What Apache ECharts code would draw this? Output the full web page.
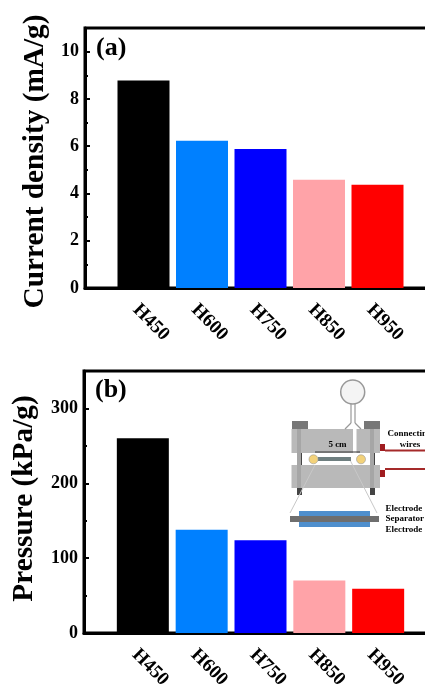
<!DOCTYPE html>
<html><head><meta charset="utf-8">
<style>html,body{margin:0;padding:0;background:#fff;overflow:hidden}#c{width:425px;height:684px}</style>
<script src="https://cdn.jsdelivr.net/npm/echarts@6/dist/echarts.min.js"></script>
</head><body><div id="c"></div>
<script>
const categories = ['H450','H600','H750','H850','H950'];
const currentDensity = [8.78,6.23,5.88,4.58,4.37];
const pressure = [260,138,124,70,59];
const barColors = ['#000000','#0080ff','#0000ff','#ffa3a8','#ff0000'];
const FONT = '"Liberation Serif","Times New Roman",serif';

const chart = echarts.init(document.getElementById('c'), null, {renderer:'canvas'});

function xAx(i){return {
  gridIndex:i,type:'value',min:-1,max:5,interval:1,containShape:false,
  axisLine:{show:true,onZero:false,lineStyle:{color:'#000',width:3}},
  axisTick:{show:false},splitLine:{show:false},
  axisLabel:{
    rotate:-45,align:'center',verticalAlign:'middle',margin:27,padding:[0,0,0,21],
    color:'#000',fontFamily:FONT,fontWeight:'bold',fontSize:19,
    showMinLabel:false,showMaxLabel:false,
    formatter:v=>categories[v]||''
  }
};}
function yAx(i,max,interval,name,nameGap,namePad){return {
  gridIndex:i,type:'value',min:0,max:max,interval:interval,
  name:name,nameLocation:'middle',nameGap:nameGap,
  nameTextStyle:{color:'#000',fontFamily:FONT,fontWeight:'bold',fontSize:29.3,padding:namePad},
  axisLine:{show:true,onZero:false,lineStyle:{color:'#000',width:3}},
  axisTick:{show:true,inside:true,length:5,lineStyle:{color:'#000',width:2}},
  minorTick:{show:true,splitNumber:2,length:3,lineStyle:{color:'#000',width:2}},
  splitLine:{show:false},minorSplitLine:{show:false},
  axisLabel:{margin:6,padding:[3,0,0,0],color:'#000',fontFamily:FONT,fontWeight:'bold',fontSize:18,showMaxLabel:false}
};}
function series(i,vals){return {
  type:'bar',xAxisIndex:i,yAxisIndex:i,barWidth:52,silent:true,
  data:vals.map((v,k)=>({value:[k,v],itemStyle:{color:barColors[k]}}))
};}

const R=(x,y,w,h,fill,z)=>({type:'rect',silent:true,z:z||10,shape:{x,y,width:w,height:h},style:{fill}});
const L=(x1,y1,x2,y2,stroke,lineWidth)=>({type:'line',silent:true,z:11,shape:{x1,y1,x2,y2},style:{stroke,lineWidth}});
const T=(x,y,text,size,align)=>({type:'text',silent:true,z:12,x,y,style:{text,fill:'#000',font:`bold ${size}px ${FONT}`,align:align||'left',verticalAlign:'middle'}});

const inset = [
  L(315,465,290,513,'#c8c8c8',1),L(350,460,377,513,'#c8c8c8',1),
  R(292,421,16,8,'#777'),R(364,421,16,8,'#777'),
  R(291.5,429,88.5,24,'#b9b9b9'),
  R(291.5,465,88.5,23,'#b9b9b9'),
  R(297,429,4,59,'#a6a6a6',11),R(370,429,4,59,'#a6a6a6',11),
  R(297,453,5,12,'#444'),R(370,453,5,12,'#444'),
  R(297,488,5,7,'#444'),R(370,488,5,7,'#444'),
  R(304,457,12,4,'#fff',11),R(350,457,10,4,'#fff',11),
  R(318,457,33,4,'#6f7f80',11),
  R(353,429,3.5,30,'#fff',11),
  L(351,404,351,423,'#999',1.2),L(355,404,355,423,'#999',1.2),
  L(351,423,345,429,'#999',1.2),L(355,423,361,429,'#999',1.2),
  {type:'circle',silent:true,z:12,shape:{cx:352.7,cy:392,r:12},style:{fill:'#f4f4f4',stroke:'#999',lineWidth:1.5}},
  L(347,392,356,392,'#222',1.2),
  {type:'circle',silent:true,z:12,shape:{cx:313.5,cy:459.3,r:4.5},style:{fill:'#f3d27a',stroke:'#999',lineWidth:0.6}},
  {type:'circle',silent:true,z:12,shape:{cx:361,cy:459.3,r:4.5},style:{fill:'#f3d27a',stroke:'#999',lineWidth:0.6}},
  L(315,452,360,452,'#333',1),
  T(337.5,445,'5 cm',9,'center'),
  R(380,444,5,7,'#a01c20',11),R(380,470,5,7,'#a01c20',11),
  L(385,450.5,430,450.5,'#a52a2a',1.8),L(385,469,430,469,'#a52a2a',1.8),
  T(387.5,434,'Connecting',9),T(410,445,'wires',9,'center'),
  R(299,511,71,16,'#4f8fcd'),R(290,516,89,6,'#6e6e6e',11),
  T(385.5,509,'Electrode',9),T(385.5,519,'Separator',9),T(385.5,530,'Electrode',9)
];

chart.setOption({
  animation:false,backgroundColor:'#fff',
  title:[
    {text:'(a)',left:96,top:35,padding:0,textStyle:{color:'#000',fontFamily:FONT,fontWeight:'bold',fontSize:26}},
    {text:'(b)',left:95,top:377,padding:0,textStyle:{color:'#000',fontFamily:FONT,fontWeight:'bold',fontSize:26}}
  ],
  grid:[
    {show:true,outerBoundsMode:'none',left:85,top:28,width:351,height:260,borderColor:'#000',borderWidth:3,backgroundColor:'transparent'},
    {show:true,outerBoundsMode:'none',left:84,top:371,width:353,height:262,borderColor:'#000',borderWidth:3,backgroundColor:'transparent'}
  ],
  xAxis:[xAx(0),xAx(1)],
  yAxis:[yAx(0,11,2,'Current density (mA/g)',31,[0,7,0,0]),yAx(1,350,100,'Pressure (kPa/g)',45,[0,0,0,7])],
  series:[series(0,currentDensity),series(1,pressure)],
  graphic:{elements:inset}
});
</script></body></html>
